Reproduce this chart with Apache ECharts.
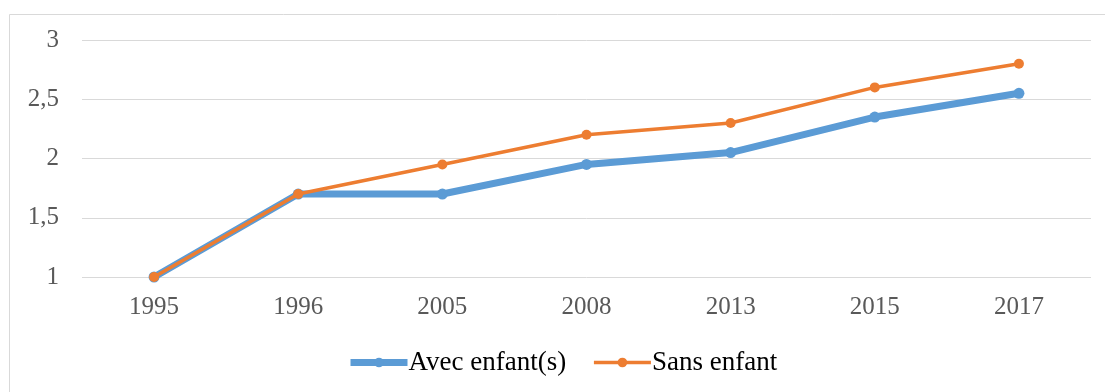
<!DOCTYPE html>
<html>
<head>
<meta charset="utf-8">
<script src="https://cdn.jsdelivr.net/npm/echarts@6/dist/echarts.min.js"></script>
<style>
  html, body { margin: 0; padding: 0; background: #fff; }
  #chart { width: 1105px; height: 392px; }
</style>
</head>
<body>
<div id="chart"></div>
<script>
const years = ['1995', '1996', '2005', '2008', '2013', '2015', '2017'];
const avecEnfants = [1, 1.7, 1.7, 1.95, 2.05, 2.35, 2.55];
const sansEnfant = [1, 1.7, 1.95, 2.2, 2.3, 2.6, 2.8];

const FONT = 'Liberation Serif';
const BLUE = '#5b9bd5';
const ORANGE = '#ed7d31';

const legendText = { fontFamily: FONT, fontSize: 27, color: '#000', padding: [0, 0, 0, -4] };

const chart = echarts.init(document.getElementById('chart'));
chart.setOption({
  animation: false,
  backgroundColor: '#fff',
  graphic: [{
    type: 'rect',
    shape: { x: 9.5, y: 14.5, width: 1200, height: 500 },
    style: { fill: 'none', stroke: '#d9d9d9', lineWidth: 1 },
    silent: true,
    z: -10
  }],
  grid: { left: 82, right: 14, top: 40, bottom: 115 },
  legend: {
    top: 344,
    left: 342,
    itemWidth: 57,
    itemHeight: 12,
    itemGap: 26,
    textStyle: legendText,
    data: [
      { name: 'Avec enfant(s)', lineStyle: { width: 7 }, itemStyle: { color: BLUE }, textStyle: legendText },
      { name: 'Sans enfant', lineStyle: { width: 3.5 }, itemStyle: { color: ORANGE }, textStyle: legendText }
    ]
  },
  xAxis: {
    type: 'category',
    data: years,
    boundaryGap: true,
    axisLine: { show: false },
    axisTick: { show: false },
    axisLabel: { fontFamily: FONT, fontSize: 25, color: '#595959', margin: 18 }
  },
  yAxis: {
    type: 'value',
    min: 1,
    max: 3,
    interval: 0.5,
    axisLine: { show: false },
    axisTick: { show: false },
    splitLine: { lineStyle: { color: '#d9d9d9', width: 1 } },
    axisLabel: {
      fontFamily: FONT, fontSize: 25, color: '#595959', margin: 23,
      formatter: v => String(v).replace('.', ',')
    }
  },
  series: [
    {
      name: 'Avec enfant(s)',
      type: 'line',
      data: avecEnfants,
      symbol: 'circle',
      symbolSize: 11,
      lineStyle: { color: BLUE, width: 7 },
      itemStyle: { color: BLUE },
      z: 2
    },
    {
      name: 'Sans enfant',
      type: 'line',
      data: sansEnfant,
      symbol: 'circle',
      symbolSize: 10,
      lineStyle: { color: ORANGE, width: 3.5 },
      itemStyle: { color: ORANGE },
      z: 3
    }
  ]
});
</script>
</body>
</html>
